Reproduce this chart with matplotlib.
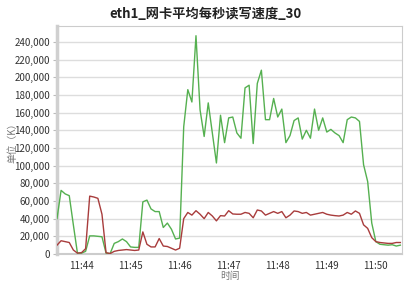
import matplotlib
matplotlib.use("Agg")
import matplotlib.pyplot as plt
import matplotlib.dates as mdates
import pandas as pd

plt.rcParams['font.family'] = ['Noto Sans CJK SC', 'DejaVu Sans']

title = "eth1_网卡平均每秒读写速度_30"
ylabel = "单位（K）"
xlabel = "时间"
start_time = "2024-01-01 11:43:30"
interval = "5s"

write_k = [40, 72, 68, 66, 33, 1, 1, 3, 20.5, 20.5, 20, 19.5, 1, 0.5, 12, 14, 17, 14, 8, 7.5,
           7.5, 59, 61, 51, 48, 48, 30, 35, 28, 17, 18, 144, 186, 172, 247, 163, 133, 171, 137, 103,
           157, 126, 154, 155, 137, 131, 188, 191, 125, 193, 208, 152, 152, 176, 155, 164, 126, 134, 151, 154,
           130, 140, 131, 164, 140, 154, 138, 141, 137, 134, 126, 152, 155, 154, 150, 101, 82, 35, 14, 11,
           10.5, 10, 10.5, 9, 10]
read_k = [10, 15, 14, 13, 4.5, 1, 1.5, 6, 65.5, 64.5, 63, 45, 1.5, 0.5, 3, 4, 4.5, 5, 4.5, 4,
          4.5, 25, 11, 8, 8, 17.5, 9, 8.5, 6.5, 4.5, 6.5, 40, 47, 44, 49, 45, 40, 47, 43, 37.5,
          43.4, 43, 49, 45.3, 45, 45, 47, 46, 41, 49.8, 48.7, 44, 46, 48, 46, 48, 41, 44, 48.7, 48,
          46, 47, 44, 45, 46, 47, 45, 44, 43.4, 43, 44, 47, 45, 48.7, 46, 33, 29, 18.5, 14, 13,
          12.5, 12, 12, 13, 13]

times = pd.date_range(start_time, periods=len(write_k), freq=interval)
write = [v * 1000 for v in write_k]
read = [v * 1000 for v in read_k]

fig = plt.figure(figsize=(4.12, 2.85), dpi=100)
ax = fig.add_axes([57/412, 1-254/285, (402-57)/412, (254-26)/285])

ax.plot(times, write, color='#55b050', lw=1.0, zorder=3)
ax.plot(times, read, color='#a83c3c', lw=1.0, zorder=3)

ax.set_ylim(0, 258000)
ax.set_xlim(pd.Timestamp(start_time), pd.Timestamp(start_time) + pd.Timedelta(seconds=422))
ax.set_yticks(range(0, 240001, 20000))
ax.yaxis.set_major_formatter(matplotlib.ticker.FuncFormatter(lambda v, p: f"{int(v):,}"))
ax.xaxis.set_major_locator(mdates.MinuteLocator())
ax.xaxis.set_major_formatter(mdates.DateFormatter('%H:%M'))

ax.grid(axis='y', color='#dddddd', lw=1.0)
ax.set_axisbelow(True)
for s in ['top', 'right']:
    ax.spines[s].set_color('#cccccc')
    ax.spines[s].set_linewidth(0.8)
ax.spines['left'].set_color('#d0d0d0')
ax.spines['left'].set_linewidth(2.5)
ax.spines['bottom'].set_color('#cccccc')
ax.spines['bottom'].set_linewidth(1.5)

ax.tick_params(axis='y', labelsize=7, colors='#333333', length=3, width=0.8, pad=2)
ax.tick_params(axis='x', labelsize=7, colors='#333333', length=0, pad=5)
for lab in ax.get_yticklabels() + ax.get_xticklabels():
    lab.set_color('#333333')
ax.tick_params(axis='both', which='both', color='#bbbbbb')

fig.text(206/412, 1-14/285, title, ha='center', va='center', fontsize=9.5, fontweight='bold', color='#222222')
fig.text(12/412, 1-140/285, ylabel, ha='center', va='center', rotation=90, fontsize=7, color='#777777')
fig.text(230/412, 1-276/285, xlabel, ha='center', va='center', fontsize=7, color='#777777')

fig.savefig('out.png', dpi=100)
